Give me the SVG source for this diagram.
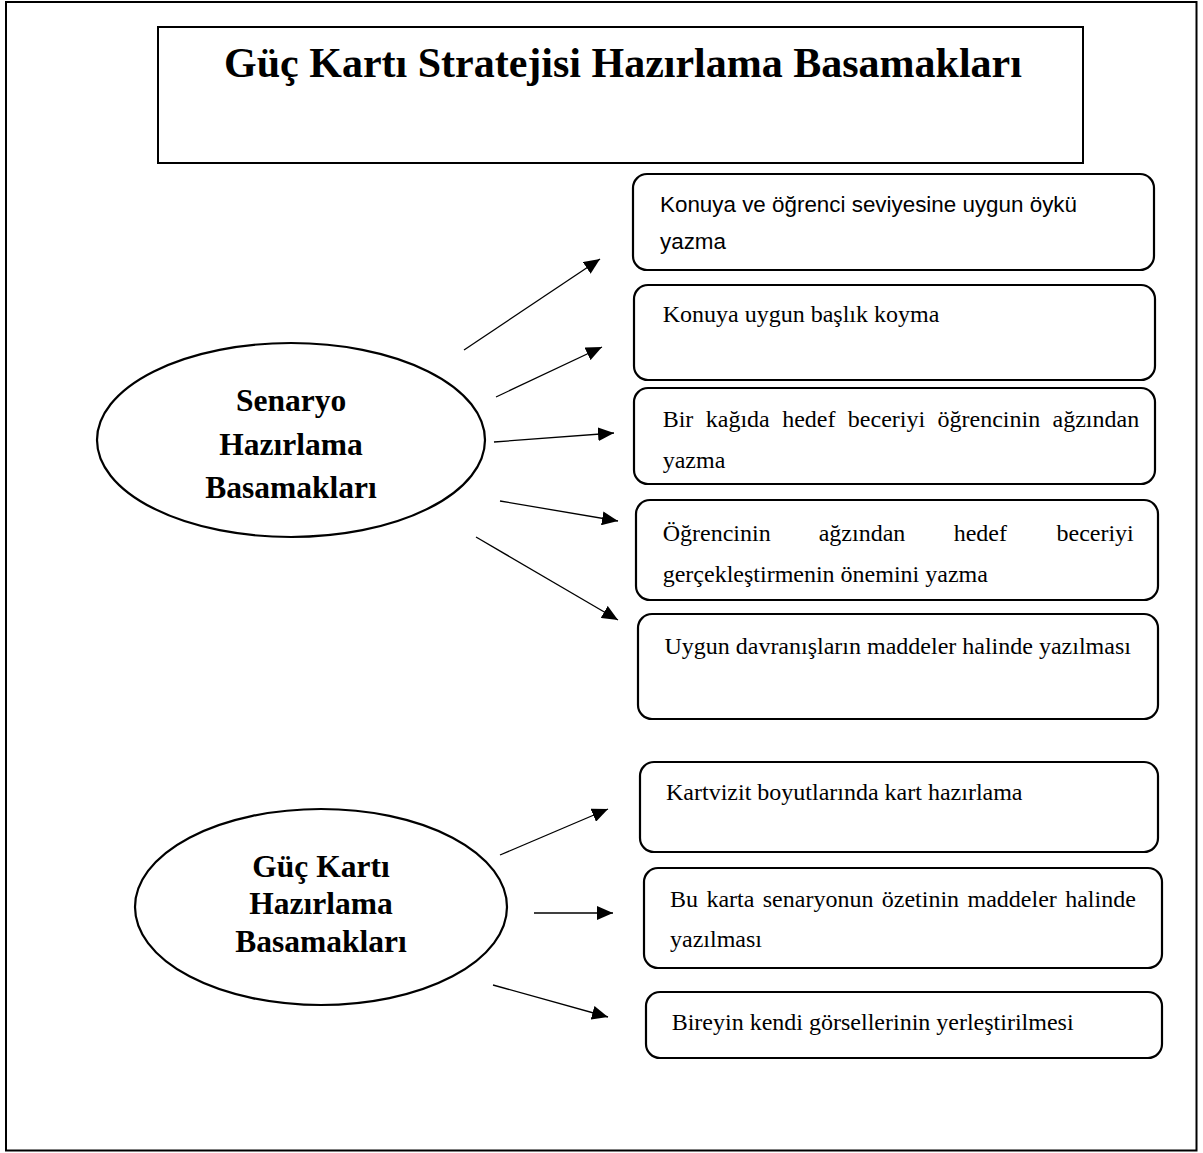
<svg xmlns="http://www.w3.org/2000/svg" width="1203" height="1153" viewBox="0 0 1203 1153">
<style>
.frame{fill:none;stroke:#000;stroke-width:2}
.box{fill:#fff;stroke:#000;stroke-width:2.2}
.ell{fill:#fff;stroke:#000;stroke-width:2.2}
.con{stroke:#000;stroke-width:1.3;fill:none;marker-end:url(#ah)}
.title{font-family:"Liberation Serif","Times New Roman",serif;font-weight:bold;font-size:42px;fill:#000}
.etx{font-family:"Liberation Serif","Times New Roman",serif;font-weight:bold;font-size:31.5px;fill:#000;text-anchor:middle}
.btx{font-family:"Liberation Serif","Times New Roman",serif;font-size:24px;fill:#000}
.stx{font-family:"Liberation Sans",Arial,sans-serif;font-size:22.4px;fill:#000}
</style>
<defs>
<marker id="ah" markerUnits="userSpaceOnUse" markerWidth="16" markerHeight="14" viewBox="0 0 16 14" refX="16" refY="7" orient="auto">
<path d="M0,0 L16,7 L0,14 z" fill="#000"/>
</marker>
</defs>
<rect width="1203" height="1153" fill="#fff"/>
<rect id="page-border" class="frame" x="6" y="2" width="1190.5" height="1148.5"/>

<g id="title">
<rect class="frame" x="158" y="27" width="925" height="136"/>
<text class="title" x="623" y="77" text-anchor="middle">Güç Kartı Stratejisi Hazırlama Basamakları</text>
</g>

<g id="connectors">
<line class="con" x1="464" y1="350" x2="600" y2="259"/>
<line class="con" x1="496" y1="397" x2="602" y2="347"/>
<line class="con" x1="494" y1="442" x2="614" y2="433"/>
<line class="con" x1="500" y1="501" x2="618" y2="521"/>
<line class="con" x1="476" y1="537" x2="618" y2="620"/>
<line class="con" x1="500" y1="855" x2="608" y2="809"/>
<line class="con" x1="534" y1="913" x2="613" y2="913"/>
<line class="con" x1="493" y1="985" x2="608" y2="1017"/>
</g>

<g id="senaryo">
<ellipse class="ell" cx="291" cy="440" rx="194" ry="97"/>
<text class="etx" x="291" y="411">Senaryo</text>
<text class="etx" x="291" y="455">Hazırlama</text>
<text class="etx" x="291" y="498">Basamakları</text>
</g>

<g id="guc-karti">
<ellipse class="ell" cx="321" cy="907" rx="186" ry="98"/>
<text class="etx" x="321" y="877">Güç Kartı</text>
<text class="etx" x="321" y="914">Hazırlama</text>
<text class="etx" x="321" y="952">Basamakları</text>
</g>

<g id="step1">
<rect class="box" x="633" y="174" width="521" height="96" rx="14"/>
<text class="stx" x="660" y="212">Konuya ve öğrenci seviyesine uygun öykü</text>
<text class="stx" x="660" y="249">yazma</text>
</g>

<g id="step2">
<rect class="box" x="634" y="285" width="521" height="95" rx="14"/>
<text class="btx" x="662.7" y="321.5">Konuya uygun başlık koyma</text>
</g>

<g id="step3">
<rect class="box" x="634" y="388" width="521" height="96" rx="14"/>
<text class="btx" x="662.7" y="427" word-spacing="6.4">Bir kağıda hedef beceriyi öğrencinin ağzından</text>
<text class="btx" x="662.7" y="468">yazma</text>
</g>

<g id="step4">
<rect class="box" x="636" y="500" width="522" height="100" rx="14"/>
<text class="btx" y="541"><tspan x="662.7">Öğrencinin</tspan><tspan x="818.7">ağzından</tspan><tspan x="953.7">hedef</tspan><tspan x="1056.5">beceriyi</tspan></text>
<text class="btx" x="662.7" y="582">gerçekleştirmenin önemini yazma</text>
</g>

<g id="step5">
<rect class="box" x="638" y="614" width="520" height="105" rx="14"/>
<text class="btx" x="664.4" y="653.6">Uygun davranışların maddeler halinde yazılması</text>
</g>

<g id="card1">
<rect class="box" x="640" y="762" width="518" height="90" rx="14"/>
<text class="btx" x="666" y="800">Kartvizit boyutlarında kart hazırlama</text>
</g>

<g id="card2">
<rect class="box" x="644" y="868" width="518" height="100" rx="14"/>
<text class="btx" x="670" y="907" word-spacing="2.4">Bu karta senaryonun özetinin maddeler halinde</text>
<text class="btx" x="670" y="947">yazılması</text>
</g>

<g id="card3">
<rect class="box" x="646" y="992" width="516" height="66" rx="14"/>
<text class="btx" x="671.7" y="1030">Bireyin kendi görsellerinin yerleştirilmesi</text>
</g>
</svg>
